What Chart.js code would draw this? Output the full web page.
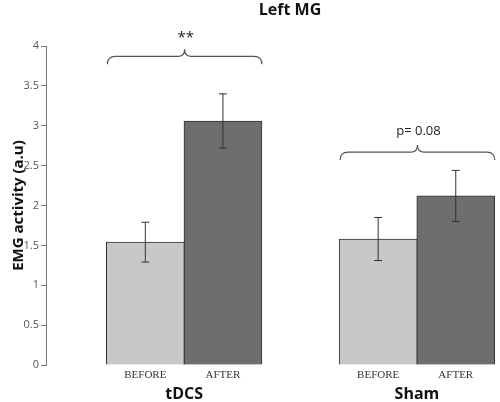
<!DOCTYPE html>
<html>
<head>
<meta charset="utf-8">
<script src="https://cdn.jsdelivr.net/npm/chart.js@4"></script>
<style>
  html, body { margin: 0; padding: 0; background: #fff; }
  #wrap { width: 500px; height: 402px; }
</style>
</head>
<body>
<div id="wrap"><canvas id="myBarChart"></canvas></div>
<script>
// valeurs
const groups = ["tDCS", "Sham"];
const phases = ["BEFORE", "AFTER"];
const beforeValues = [1.54, 1.58];
const afterValues = [3.06, 2.12];
const beforeErr = [0.25, 0.27];
const afterErr = [0.34, 0.32];
const yTicks = [0, 0.5, 1, 1.5, 2, 2.5, 3, 3.5, 4];
const signifLabels = ["**", "p= 0.08"];
const braceLevels = [3.87, 2.67];

// position des barres sur l'axe x
const beforePos = [1, 4];
const afterPos = [2, 5];

const sans = "'Open Sans', 'DejaVu Sans', sans-serif";

// barres d'erreur + accolades + titre
const extras = {
  id: "extras",
  afterDatasetsDraw(chart) {
    const ctx = chart.ctx;
    const y = chart.scales.y;
    const x = chart.scales.x;
    const errs = [beforeErr, afterErr];
    const vals = [beforeValues, afterValues];
    ctx.save();
    chart.data.datasets.forEach((ds, di) => {
      const meta = chart.getDatasetMeta(di);
      meta.data.forEach((bar, i) => {
        const top = y.getPixelForValue(vals[di][i] + errs[di][i]);
        const bot = y.getPixelForValue(vals[di][i] - errs[di][i]);
        ctx.strokeStyle = "#333";
        ctx.lineWidth = 1;
        ctx.beginPath();
        ctx.moveTo(bar.x, top);
        ctx.lineTo(bar.x, bot);
        ctx.moveTo(bar.x - 4, top);
        ctx.lineTo(bar.x + 4, top);
        ctx.moveTo(bar.x - 4, bot);
        ctx.lineTo(bar.x + 4, bot);
        ctx.stroke();
      });
    });

    // accolades
    groups.forEach((g, i) => {
      const x0 = x.getPixelForValue(beforePos[i]) - 38;
      const x1 = x.getPixelForValue(afterPos[i]) + 39;
      const xm = (x0 + x1) / 2;
      const yl = y.getPixelForValue(braceLevels[i]);
      ctx.strokeStyle = "#555";
      ctx.lineWidth = 1.2;
      ctx.beginPath();
      ctx.moveTo(x0, yl + 8);
      ctx.quadraticCurveTo(x0, yl, x0 + 8, yl);
      ctx.lineTo(xm - 6, yl);
      ctx.quadraticCurveTo(xm, yl, xm, yl - 7);
      ctx.quadraticCurveTo(xm, yl, xm + 6, yl);
      ctx.lineTo(x1 - 8, yl);
      ctx.quadraticCurveTo(x1, yl, x1, yl + 8);
      ctx.stroke();
      ctx.fillStyle = "#222";
      ctx.textAlign = "center";
      ctx.textBaseline = "middle";
      ctx.font = i === 0 ? "15px " + sans : "13px " + sans;
      ctx.fillText(signifLabels[i], xm + 1, yl - (i === 0 ? 19 : 21));
    });

    ctx.font = "bold 16px " + sans;
    ctx.fillStyle = "#111";
    ctx.textAlign = "center";
    ctx.fillText("Left MG", 290, 10);
    ctx.restore();
  },
};

const ctx = document.getElementById("myBarChart").getContext("2d");
new Chart(ctx, {
  type: "bar",
  data: {
    datasets: [
      {
        label: phases[0],
        data: beforePos.map((p, i) => ({ x: p, y: beforeValues[i] })),
        backgroundColor: "#c8c8c8",
        borderColor: "#333",
        borderWidth: 1,
        barThickness: 78,
        grouped: false,
      },
      {
        label: phases[1],
        data: afterPos.map((p, i) => ({ x: p, y: afterValues[i] })),
        backgroundColor: "#6e6e6e",
        borderColor: "#333",
        borderWidth: 1,
        barThickness: 78,
        grouped: false,
      },
    ],
  },
  options: {
    responsive: true,
    maintainAspectRatio: false,
    animation: false,
    layout: { padding: { top: 46, right: 0, left: 0, bottom: -1 } },
    plugins: {
      legend: { display: false },
      tooltip: { enabled: false },
    },
    scales: {
      x: {
        type: "linear",
        offset: false,
        min: -0.28,
        max: 5.57,
        grid: { display: false, drawTicks: false },
        border: { display: false },
        afterBuildTicks: (s) => {
          s.ticks = [...beforePos, ...afterPos].sort().map((v) => ({ value: v }));
        },
        ticks: {
          autoSkip: false,
          maxRotation: 0,
          padding: 4.5,
          color: "#333",
          font: { family: "'Liberation Serif', serif", size: 11, lineHeight: 1 },
          callback: (v) => (beforePos.includes(v) ? phases[0] : phases[1]),
        },
      },
      x2: {
        type: "linear",
        position: "bottom",
        offset: false,
        min: -0.28,
        max: 5.57,
        grid: { display: false, drawTicks: false },
        border: { display: false },
        afterBuildTicks: (s) => {
          s.ticks = beforePos.map((p) => ({ value: p + 0.5 }));
        },
        ticks: {
          autoSkip: false,
          maxRotation: 0,
          padding: 1,
          color: "#111",
          font: { family: sans, size: 16, weight: "bold", lineHeight: 1 },
          callback: (v, i) => groups[i],
        },
      },
      y: {
        min: 0,
        max: 4,
        afterFit: (s) => { s.width = 46; },
        afterBuildTicks: (s) => {
          s.ticks = yTicks.map((v) => ({ value: v }));
        },
        grid: { drawOnChartArea: false, tickLength: 5, color: "#777" },
        border: { color: "#777" },
        ticks: {
          padding: 2,
          color: "#555",
          font: { family: sans, size: 11 },
          callback: (v) => String(v),
        },
        title: {
          display: true,
          text: "EMG activity (a.u)",
          color: "#111",
          font: { family: sans, size: 15, weight: "bold" },
          padding: { top: 10, bottom: 0 },
        },
      },
    },
  },
  plugins: [extras],
});
</script>
</body>
</html>
